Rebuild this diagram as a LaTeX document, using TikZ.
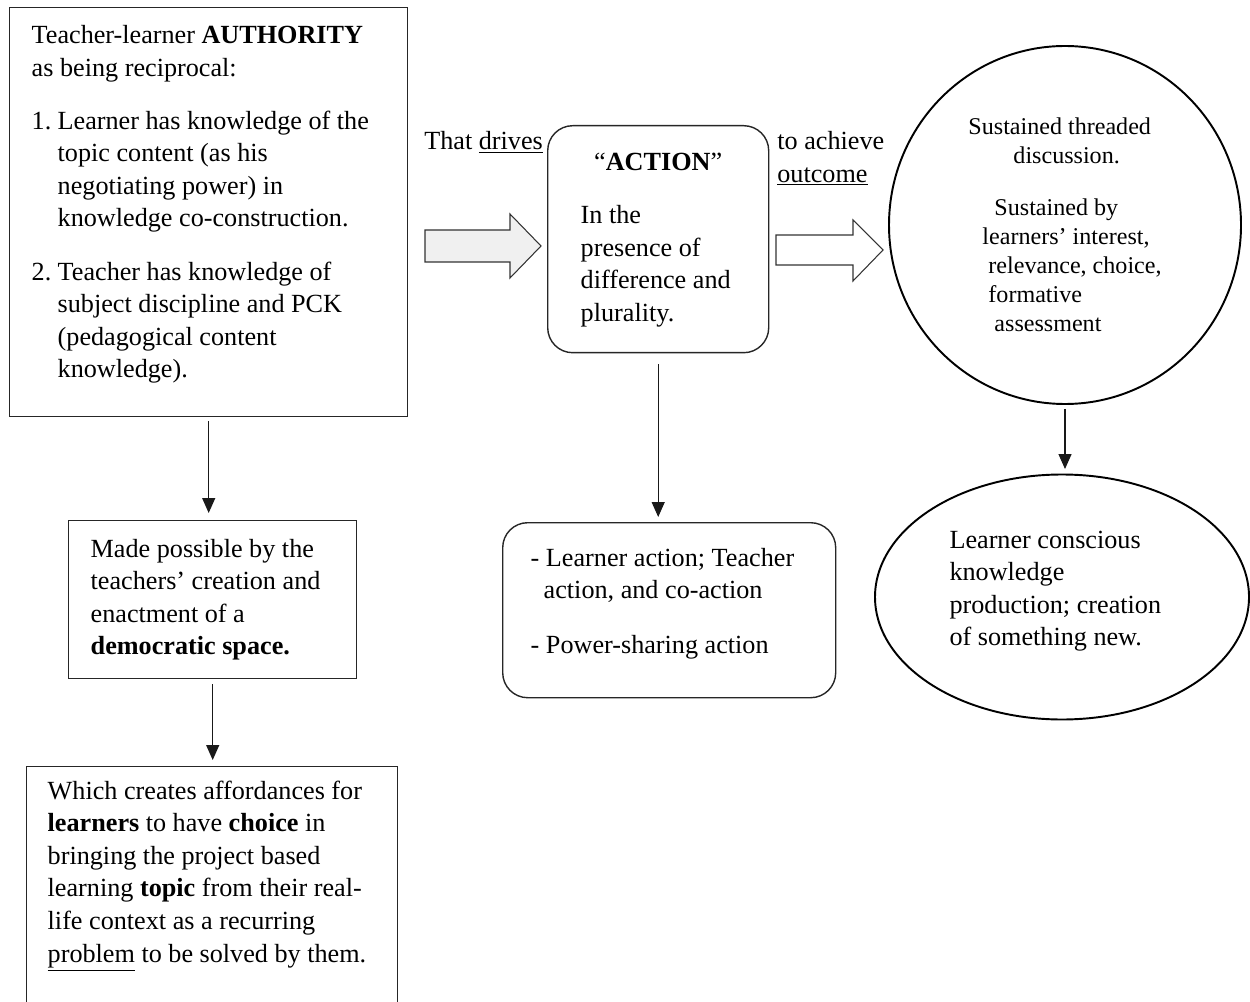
\documentclass[tikz,border=0pt]{standalone}
\usepackage{fontspec}
\setmainfont{Liberation Serif}
\usetikzlibrary{arrows.meta,positioning,shapes.geometric}
\newcommand\boxfont{\fontsize{14.9}{18.5}\selectfont}
\newcommand\ringfont{\fontsize{13.7}{16.5}\selectfont}
% linhas fixas, alinhadas a esquerda, numa largura dada
\newcommand\leftlines[2]{\makebox[#1][l]{\begin{tabular}{@{}l@{}}#2\end{tabular}}}
\tikzset{
  >={Triangle[width=2.6mm,length=3mm]},
  sqbox/.style={draw=black!85, line width=0.8pt, font=\boxfont, inner ysep=0pt},
  rndbox/.style={sqbox, rounded corners=5mm},
  ringnode/.style={ellipse, draw=black, line width=1.1pt, inner sep=0pt},
  flow/.style={->, line width=0.7pt, black!90},
  fatarrow/.style={draw=black!80, line width=0.6pt, line join=miter},
  lbl/.style={font=\boxfont, align=left, inner sep=0pt},
}
\begin{document}
\begin{tikzpicture}

  \useasboundingbox (0,0) rectangle (25,-20.04);
  \clip (0,0) rectangle (25,-20.04);

  % coluna da esquerda
  \node[sqbox, anchor=north west, minimum width=7.96cm, minimum height=8.18cm,
        inner xsep=0.44cm] (auth) at (0.18,-0.14)
    {\leftlines{7.08cm}{Teacher-learner \textbf{AUTHORITY}\\
     as being reciprocal:\\[0.41cm]
     \makebox[0.52cm][l]{1.}Learner has knowledge of the\\
     \hspace*{0.52cm}topic content (as his\\
     \hspace*{0.52cm}negotiating power) in\\
     \hspace*{0.52cm}knowledge co-construction.\\[0.42cm]
     \makebox[0.52cm][l]{2.}Teacher has knowledge of\\
     \hspace*{0.52cm}subject discipline and PCK\\
     \hspace*{0.52cm}(pedagogical content\\
     \hspace*{0.52cm}knowledge).\\[0.32cm]}};

  \node[sqbox, anchor=north west, minimum width=5.76cm, minimum height=3.16cm,
        inner xsep=0.44cm] (demo) at (1.36,-10.40)
    {\leftlines{4.88cm}{Made possible by the\\
     teachers’ creation and\\
     enactment of a\\
     \textbf{democratic space.}}};

  \node[sqbox, anchor=north west, inner xsep=0.42cm, inner ysep=0.2cm]
    (afford) at (0.52,-15.32)
    {\leftlines{6.58cm}{Which creates affordances for\\
     \textbf{learners} to have \textbf{choice} in\\
     bringing the project based\\
     learning \textbf{topic} from their real-\\
     life context as a recurring\\
     \underline{problem} to be solved by them.\\[0.6cm]
     \mbox{}}};

  % centro
  \node[rndbox, anchor=north west, minimum width=4.42cm, minimum height=4.54cm,
        inner xsep=0.66cm] (action) at (10.94,-2.50)
    {\leftlines{3.10cm}{\makebox[3.10cm]{“\textbf{ACTION}”}\\[0.42cm]
     In the\\
     presence of\\
     difference and\\
     plurality.}};

  \node[rndbox, anchor=north west, minimum width=6.66cm, minimum height=3.50cm,
        inner xsep=0.56cm] (shares) at (10.04,-10.44)
    {\leftlines{5.54cm}{- Learner action; Teacher\\
     \hspace*{0.26cm}action, and co-action\\[0.44cm]
     - Power-sharing action\\[0.28cm]}};

  % direita
  \node[ringnode, minimum width=7.04cm, minimum height=7.16cm, font=\ringfont,
        align=left] (ring) at (21.30,-4.50)
    {Sustained threaded\\
     \hspace*{0.90cm}discussion.\\[0.46cm]
     \hspace*{0.52cm}Sustained by\\
     \hspace*{0.28cm}learners’ interest,\\
     \hspace*{0.40cm}relevance, choice,\\
     \hspace*{0.40cm}formative\\
     \hspace*{0.52cm}assessment};

  \node[ringnode, minimum width=7.48cm, minimum height=4.90cm, font=\boxfont]
    (outcome) at (21.24,-11.94)
    {\leftlines{4.50cm}{Learner conscious\\
     knowledge\\
     production; creation\\
     of something new.\\[0.26cm]}};

  % rotulos das setas largas
  \node[lbl, anchor=base west] (drives) at (8.48,-3.00) {That \underline{drives}};
  \node[lbl, anchor=north west] (achieve) at (15.54,-2.62)
    {to achieve\\ \underline{outcome}};

  % setas largas
  \draw[fatarrow, fill=black!6] (8.50,-4.60) -- (10.20,-4.60) -- (10.20,-4.28)
    -- (10.82,-4.92) -- (10.20,-5.56) -- (10.20,-5.24) -- (8.50,-5.24) -- cycle;
  \draw[fatarrow, fill=white] (15.52,-4.70) -- (17.06,-4.70) -- (17.06,-4.40)
    -- (17.66,-5.00) -- (17.06,-5.62) -- (17.06,-5.30) -- (15.52,-5.30) -- cycle;

  % setas
  \draw[flow, shorten <=0.08cm, shorten >=0.14cm] (auth.south) -- (auth.south |- demo.north);
  \draw[flow, shorten <=0.10cm, shorten >=0.12cm] (demo.south) -- (demo.south |- afford.north);
  \draw[flow, shorten <=0.22cm, shorten >=0.10cm] (action.south) -- (action.south |- shares.north);
  \draw[flow, shorten <=0.08cm, shorten >=0.09cm] (ring.south) -- (ring.south |- outcome.north);

\end{tikzpicture}
\end{document}
